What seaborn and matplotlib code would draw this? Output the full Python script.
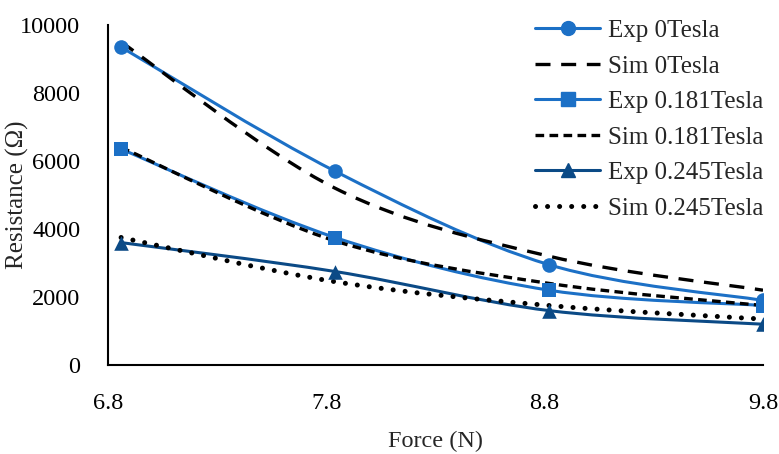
import numpy as np
import pandas as pd
import matplotlib
matplotlib.use("Agg")
import matplotlib.pyplot as plt
import seaborn as sns
from matplotlib.path import Path
from matplotlib.patches import PathPatch
from matplotlib.lines import Line2D

# ---- data ----
force = [6.86, 7.84, 8.82, 9.8]
exp_0 = [9350, 5700, 2950, 1900]
sim_0 = [9500, 5200, 3200, 2200]
exp_181 = [6350, 3750, 2200, 1750]
sim_181 = [6400, 3650, 2400, 1750]
exp_245 = [3600, 2750, 1600, 1200]
sim_245 = [3750, 2450, 1750, 1350]
xticks = [6.8, 7.8, 8.8, 9.8]
yticks = [0, 2000, 4000, 6000, 8000, 10000]

BLUE = "#1C70C6"
NAVY = "#0B4A86"

sns.set_style("white")
plt.rcParams["font.family"] = ["Liberation Serif", "DejaVu Serif"]

fig = plt.figure(figsize=(7.79, 4.54), dpi=100)
ax = fig.add_axes([108 / 779, (454 - 365) / 454, (763 - 108) / 779, (365 - 25) / 454])


def smooth_path(xs, ys):
    pts = np.column_stack([xs, ys]).astype(float)
    n = len(pts)
    verts = [pts[0]]
    codes = [Path.MOVETO]
    for i in range(n - 1):
        p0 = pts[i - 1] if i > 0 else pts[i]
        p1 = pts[i]
        p2 = pts[i + 1]
        p3 = pts[i + 2] if i + 2 < n else pts[i + 1]
        c1 = p1 + (p2 - p0) / 6.0
        c2 = p2 - (p3 - p1) / 6.0
        verts += [c1, c2, p2]
        codes += [Path.CURVE4] * 3
    return Path(np.array(verts), codes)


series = [
    ("Exp 0Tesla", exp_0, dict(color=BLUE, lw=2.2, ls="-"), "o"),
    ("Sim 0Tesla", sim_0, dict(color="black", lw=2.4, ls=(0, (4.5, 3.2))), None),
    ("Exp 0.181Tesla", exp_181, dict(color=BLUE, lw=2.2, ls="-"), "s"),
    ("Sim 0.181Tesla", sim_181, dict(color="black", lw=2.4, ls=(0, (2.6, 1.6))), None),
    ("Exp 0.245Tesla", exp_245, dict(color=NAVY, lw=2.2, ls="-"), "^"),
    ("Sim 0.245Tesla", sim_245, dict(color="black", lw=3.6, ls=(0, (0.01, 2.4))), None),
]

handles = []
for name, vals, st, mk in series:
    patch = PathPatch(smooth_path(force, vals), fill=False, edgecolor=st["color"],
                      lw=st["lw"], linestyle=st["ls"],
                      capstyle="round" if mk is None and st["lw"] > 3 else "butt",
                      zorder=3 if mk else 4)
    ax.add_patch(patch)
    if mk:
        df = pd.DataFrame({"x": force, "y": vals})
        sns.scatterplot(data=df, x="x", y="y", marker=mk, s=110, color=st["color"],
                        edgecolor=st["color"], linewidth=0, ax=ax, zorder=5, legend=False)
        handles.append(Line2D([], [], color=st["color"], lw=st["lw"], marker=mk,
                              markersize=10, label=name))
    else:
        h = Line2D([], [], color=st["color"], lw=st["lw"], ls=st["ls"], label=name)
        if st["lw"] > 3:
            h.set_dash_capstyle("round")
        handles.append(h)

ax.set_xlim(6.8, 9.8)
ax.set_ylim(0, 10000)
ax.set_xticks(xticks)
ax.set_xticklabels([f"{v:.1f}" for v in xticks])
ax.set_yticks(yticks)
ax.tick_params(axis="both", length=0, labelsize=17.5, colors="black")
ax.tick_params(axis="x", pad=20)
ax.tick_params(axis="y", pad=20)
for s in ["top", "right"]:
    ax.spines[s].set_visible(False)
for s in ["left", "bottom"]:
    ax.spines[s].set_color("black")
    ax.spines[s].set_linewidth(1.5)
ax.set_xlabel("Force (N)", fontsize=17.5, labelpad=12)
ax.set_ylabel("Resistance (Ω)", fontsize=18)
ax.yaxis.set_label_coords(-0.12, 0.5)
ax.grid(False)

leg = ax.legend(handles=handles, loc="upper left", bbox_to_anchor=(0.637, 1.045),
                frameon=False, fontsize=18, handlelength=2.6, handletextpad=0.3,
                labelspacing=0.52, borderaxespad=0)

fig.savefig("out.png", dpi=100)
